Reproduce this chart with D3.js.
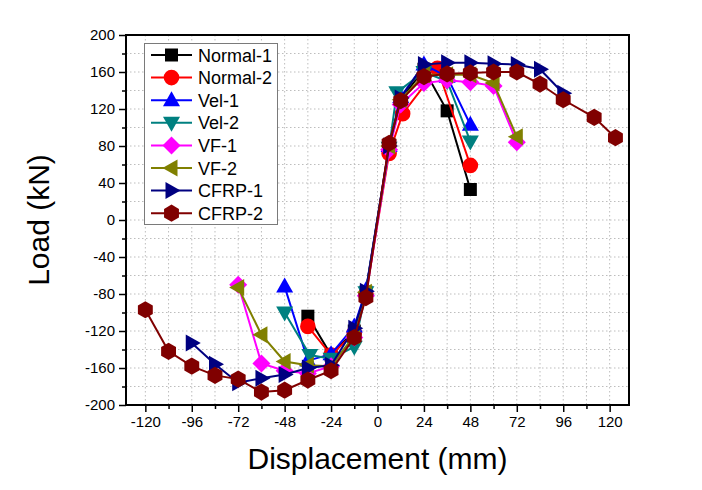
<!DOCTYPE html>
<html>
<head>
<meta charset="utf-8">
<script src="https://cdn.jsdelivr.net/npm/d3@7"></script>
<style>
  html, body { margin: 0; padding: 0; background: #fff; }
  svg { display: block; font-family: "Liberation Sans", Arial, sans-serif; }
</style>
</head>
<body>
<svg id="chart" width="702" height="490"></svg>
<script>
// ---- data ----
const seriesNames = ["Normal-1", "Normal-2", "Vel-1", "Vel-2", "VF-1", "VF-2", "CFRP-1", "CFRP-2"];

const normal1X = [-36, -24, -12, -6, 6, 12, 24, 36, 48];
const normal1Y = [-104, -146, -120, -78, 78, 130, 163, 118, 33];

const normal2X = [-36, -24, -12, -6, 6, 13, 31, 48];
const normal2Y = [-115, -146, -122, -80, 72, 115, 164, 59];

const vel1X = [-48, -36, -24, -12, -6, 6, 12, 24, 36, 48];
const vel1Y = [-72, -152, -145, -115, -76, 80, 133, 168, 155, 103];

const vel2X = [-48, -35, -24, -12, -6, 6, 10, 24, 36, 48];
const vel2Y = [-100, -146, -150, -137, -78, 78, 138, 160, 150, 85];

const vf1X = [-72, -60, -48, -36, -24, -12, -6, 6, 12, 24, 36, 48, 60, 72];
const vf1Y = [-70, -155, -163, -166, -158, -127, -82, 76, 125, 148, 151, 149, 145, 84];

const vf2X = [-72, -60, -48, -36, -24, -12, -6, 6, 12, 24, 36, 48, 60, 72];
const vf2Y = [-73, -124, -153, -157, -158, -125, -78, 80, 130, 157, 157, 157, 148, 90];

const cfrp1X = [-96, -84, -72, -60, -48, -36, -24, -12, -6, 6, 12, 24, 36, 48, 60, 72, 84, 96];
const cfrp1Y = [-133, -156, -176, -171, -167, -160, -157, -117, -77, 80, 132, 168, 170, 170, 169, 168, 163, 137];

const cfrp2X = [-120, -108, -96, -84, -72, -60, -48, -36, -24, -12, -6, 6, 12, 24, 36, 48, 60, 72, 84, 96, 112, 123];
const cfrp2Y = [-97, -142, -158, -168, -172, -186, -184, -173, -163, -127, -84, 83, 129, 155, 158, 159, 160, 160, 147, 130, 111, 89];

const xTicks = [-120, -96, -72, -48, -24, 0, 24, 48, 72, 96, 120];
const yTicks = [-200, -160, -120, -80, -40, 0, 40, 80, 120, 160, 200];

// ---- styles ----
const colors = ["#000000", "#ff0000", "#0000ff", "#008080", "#ff00ff", "#808000", "#000080", "#800000"];
const shapes = ["square", "circle", "triUp", "triDown", "diamond", "triLeft", "triRight", "hexagon"];

const series = seriesNames.map((name, i) => {
  const xs = [normal1X, normal2X, vel1X, vel2X, vf1X, vf2X, cfrp1X, cfrp2X][i];
  const ys = [normal1Y, normal2Y, vel1Y, vel2Y, vf1Y, vf2Y, cfrp1Y, cfrp2Y][i];
  return { name, color: colors[i], shape: shapes[i], points: xs.map((xv, j) => ({ x: xv, y: ys[j] })) };
});

function markerPath(shape) {
  const p = d3.path();
  if (shape === "square") { const s = 6.5; p.rect(-s, -s, 2 * s, 2 * s); }
  else if (shape === "circle") { p.moveTo(7.8, 0); p.arc(0, 0, 7.8, 0, 2 * Math.PI); }
  else if (shape === "diamond") { const s = 9; p.moveTo(0, -s); p.lineTo(s, 0); p.lineTo(0, s); p.lineTo(-s, 0); p.closePath(); }
  else if (shape === "hexagon") {
    const r = 8.6;
    for (let k = 0; k < 6; k++) {
      const a = Math.PI / 2 + k * Math.PI / 3;
      const px = r * Math.cos(a), py = r * Math.sin(a);
      if (k === 0) p.moveTo(px, py); else p.lineTo(px, py);
    }
    p.closePath();
  } else {
    const w = 8.5, h = 15;
    const pts = [[0, -h * 0.6], [w, h * 0.4], [-w, h * 0.4]];
    const rot = { triUp: 0, triRight: 90, triDown: 180, triLeft: 270 }[shape] * Math.PI / 180;
    pts.forEach((q, k) => {
      const px = q[0] * Math.cos(rot) - q[1] * Math.sin(rot);
      const py = q[0] * Math.sin(rot) + q[1] * Math.cos(rot);
      if (k === 0) p.moveTo(px, py); else p.lineTo(px, py);
    });
    p.closePath();
  }
  return p.toString();
}

// ---- layout ----
const svg = d3.select("#chart");
const mLeft = 126, mRight = 629, mTop = 35, mBottom = 405;

const x = d3.scaleLinear().domain([-130, 130]).range([mLeft, mRight]);
const y = d3.scaleLinear().domain([-200, 200]).range([mBottom, mTop]);

// grid
const gridX = d3.range(-120, 121, 12);
const gridY = d3.range(-180, 181, 20);
const grid = svg.append("g");
grid.selectAll("line.gx").data(gridX).join("line").attr("class", "gx")
  .attr("x1", d => x(d)).attr("x2", d => x(d)).attr("y1", mTop).attr("y2", mBottom)
  .attr("stroke", "#bdbdbd").attr("stroke-width", 1).attr("stroke-dasharray", "1.5,2.5");
grid.selectAll("line.gy").data(gridY).join("line").attr("class", "gy")
  .attr("y1", d => y(d)).attr("y2", d => y(d)).attr("x1", mLeft).attr("x2", mRight)
  .attr("stroke", "#bdbdbd").attr("stroke-width", 1).attr("stroke-dasharray", "1.5,2.5");

// axes
const fmt = d => String(d);
const xAxis = d3.axisBottom(x).tickValues(xTicks).tickSize(7).tickPadding(4).tickFormat(fmt);
const xMinor = d3.axisBottom(x).tickValues(d3.range(-108, 121, 24)).tickSize(4).tickFormat("");
const yAxis = d3.axisLeft(y).tickValues(yTicks).tickSize(7).tickPadding(4).tickFormat(fmt);
const yMinor = d3.axisLeft(y).tickValues(d3.range(-180, 181, 40)).tickSize(4).tickFormat("");

function styleAxis(g) {
  g.select(".domain").remove();
  g.selectAll(".tick line").attr("stroke", "#000").attr("stroke-width", 1.5);
  g.selectAll(".tick text").attr("font-size", 15).attr("fill", "#000")
    .attr("font-family", "'Liberation Sans', Arial, sans-serif");
}
svg.append("g").attr("transform", `translate(0,${mBottom})`).call(xAxis).call(styleAxis);
svg.append("g").attr("transform", `translate(0,${mBottom})`).call(xMinor).call(styleAxis);
svg.append("g").attr("transform", `translate(${mLeft},0)`).call(yAxis).call(styleAxis);
svg.append("g").attr("transform", `translate(${mLeft},0)`).call(yMinor).call(styleAxis);

// series
const line = d3.line().x(d => x(d.x)).y(d => y(d.y));
const plot = svg.append("g");
series.forEach(s => {
  const g = plot.append("g");
  g.append("path").attr("d", line(s.points)).attr("fill", "none")
    .attr("stroke", s.color).attr("stroke-width", 2);
  g.selectAll("path.m").data(s.points).join("path").attr("class", "m")
    .attr("transform", d => `translate(${x(d.x)},${y(d.y)})`)
    .attr("d", markerPath(s.shape)).attr("fill", s.color).attr("stroke", "none");
});

// frame
svg.append("rect").attr("x", mLeft).attr("y", mTop).attr("width", mRight - mLeft).attr("height", mBottom - mTop)
  .attr("fill", "none").attr("stroke", "#000").attr("stroke-width", 2);

// legend
const lg = svg.append("g");
lg.append("rect").attr("x", 144.5).attr("y", 43.5).attr("width", 133).attr("height", 181)
  .attr("fill", "#fff").attr("stroke", "#7a7a7a").attr("stroke-width", 1);
series.forEach((s, i) => {
  const yy = 55 + i * 22.6;
  lg.append("line").attr("x1", 151).attr("x2", 192).attr("y1", yy).attr("y2", yy)
    .attr("stroke", s.color).attr("stroke-width", 2);
  lg.append("path").attr("transform", `translate(171.5,${yy})`).attr("d", markerPath(s.shape)).attr("fill", s.color);
  lg.append("text").attr("x", 198).attr("y", yy + 6.5).attr("font-size", 18).attr("fill", "#000").text(s.name);
});

// titles
svg.append("text").attr("x", (mLeft + mRight) / 2).attr("y", 469).attr("text-anchor", "middle")
  .attr("font-size", 30).attr("fill", "#000").text("Displacement (mm)");
svg.append("text").attr("transform", "translate(49,220) rotate(-90)").attr("text-anchor", "middle")
  .attr("font-size", 30).attr("fill", "#000").text("Load (kN)");
</script>
</body>
</html>
